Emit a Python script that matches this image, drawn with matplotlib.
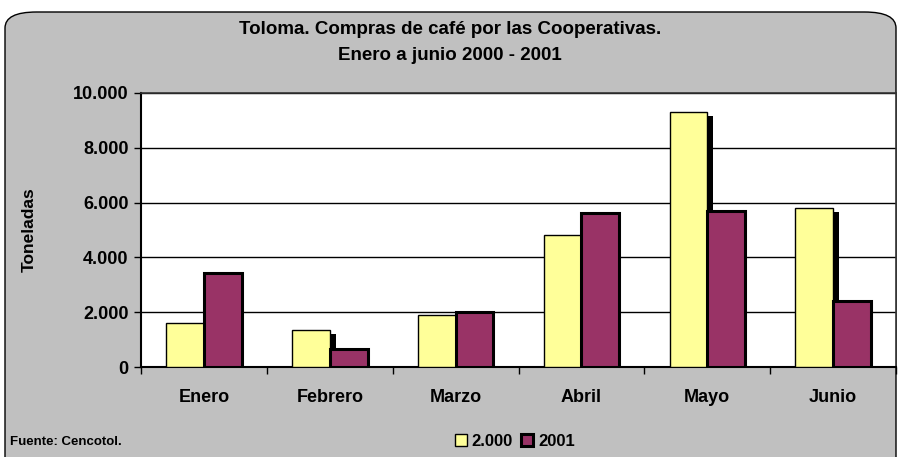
import numpy as np
import matplotlib
matplotlib.use('Agg')
import matplotlib.pyplot as plt
import matplotlib.patheffects as pe
from matplotlib.patches import FancyBboxPatch
from matplotlib.ticker import FuncFormatter, FixedLocator

# datos
meses = ['Enero', 'Febrero', 'Marzo', 'Abril', 'Mayo', 'Junio']
compras_2000 = [1620, 1350, 1890, 4820, 9290, 5810]
compras_2001 = [3420, 650, 2000, 5610, 5690, 2410]
serie_labels = ['2.000', '2001']

plt.rcParams['font.family'] = ['Liberation Sans', 'DejaVu Sans']
plt.rcParams['font.weight'] = 'bold'

fig = plt.figure(figsize=(9, 4.57), dpi=100)
fig.patch.set_facecolor('white')

# fondo gris con esquinas redondeadas
W, H = 900, 457
bg = FancyBboxPatch((5 / W, -20 / H), 891 / W, (457 - 12 + 20) / H,
                    boxstyle='round,pad=0,rounding_size=0.035',
                    transform=fig.transFigure, facecolor='#C0C0C0',
                    edgecolor='black', linewidth=1.0, zorder=-5)
fig.patches.append(bg)

ax = fig.add_axes([141 / W, (457 - 367) / H, 755 / W, 274 / H])
ax.set_zorder(2)
ax.set_facecolor('white')

x = np.arange(len(meses))
w = 0.3
# sombra negra de la serie 2000
sombra = [pe.SimplePatchShadow(offset=(4.3, -2.9), shadow_rgbFace='black', alpha=1.0), pe.Normal()]
b1 = ax.bar(x - w / 2, compras_2000, w, color='#FFFF99', edgecolor='black', linewidth=1.0,
            label=serie_labels[0], zorder=3)
for r in b1:
    r.set_path_effects(sombra)
b2 = ax.bar(x + w / 2, compras_2001, w, color='#993366', edgecolor='black', linewidth=2.2,
            label=serie_labels[1], zorder=3)

ax.set_xlim(-0.5, len(meses) - 0.5)
ax.set_ylim(0, 10000)
ax.set_yticks(np.arange(0, 10001, 2000))
ax.yaxis.set_major_formatter(FuncFormatter(lambda v, p: f'{int(v):,}'.replace(',', '.')))
ax.yaxis.grid(True, color='black', linewidth=1.0, zorder=1)
ax.set_axisbelow(True)

ax.set_xticks(x)
ax.set_xticklabels(meses, fontsize=13, fontweight='bold')
ax.tick_params(axis='x', length=0, pad=16)
ax.xaxis.set_minor_locator(FixedLocator(np.arange(-0.5, len(meses), 1)))
ax.tick_params(axis='x', which='minor', length=5, width=1, direction='out')
ax.tick_params(axis='y', length=5, width=1, labelsize=13, pad=4)
for lab in ax.get_yticklabels():
    lab.set_fontweight('bold')

for s in ['left', 'bottom']:
    ax.spines[s].set_linewidth(1.5)
for s in ['top', 'right']:
    ax.spines[s].set_linewidth(1.2)
    ax.spines[s].set_color('#333333')

ax.set_ylabel('Toneladas', fontsize=12.5, fontweight='bold', labelpad=26)

fig.text(0.5, 1 - 29 / H, 'Toloma. Compras de café por las Cooperativas.', ha='center', va='center',
         fontsize=13.5, fontweight='bold')
fig.text(0.5, 1 - 55 / H, 'Enero a junio 2000 - 2001', ha='center', va='center',
         fontsize=13.5, fontweight='bold')
fig.text(10 / W, 1 - 442 / H, 'Fuente: Cencotol.', ha='left', va='center', fontsize=9.5, fontweight='bold')

leg = fig.legend(handles=[b1, b2], labels=serie_labels, loc='center', bbox_to_anchor=(515 / W, 1 - 441 / H),
                 ncol=2, frameon=False, handlelength=0.7, handleheight=0.7,
                 handletextpad=0.3, columnspacing=0.5, prop={'weight': 'bold', 'size': 12})
for h in leg.legend_handles:
    h.set_path_effects([])

fig.savefig('out.png', dpi=100)
